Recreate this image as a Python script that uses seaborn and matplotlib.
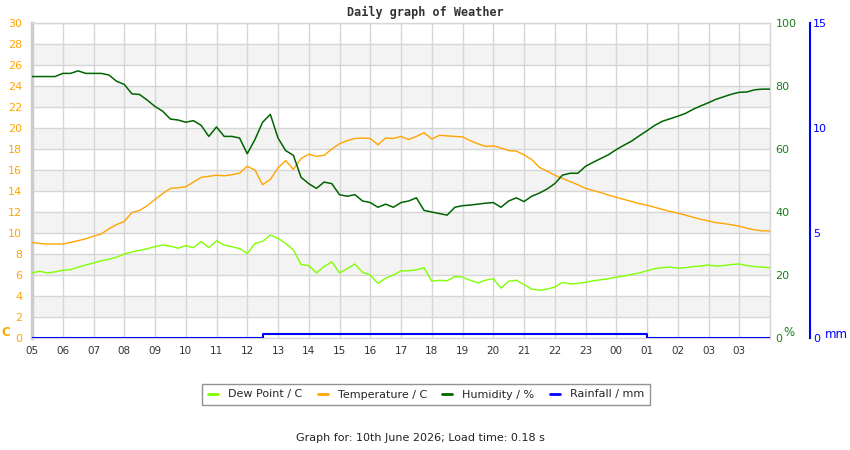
import numpy as np
import pandas as pd
import matplotlib
matplotlib.use("Agg")
import matplotlib.pyplot as plt
from matplotlib.lines import Line2D
import seaborn as sns

# readings every 15 minutes from 05:00, hours since start
sample_hours = np.linspace(0, 24, 97)

temperature = [9.1, 9.0, 8.95, 8.95, 8.95, 9.1, 9.27, 9.45, 9.7, 9.9, 10.4, 10.8, 11.1,
               11.95, 12.15, 12.6, 13.2, 13.75, 14.25, 14.3, 14.4, 14.85, 15.3, 15.4, 15.5,
               15.45, 15.55, 15.7, 16.35, 16.0, 14.6, 15.1, 16.2, 16.9, 16.05, 17.1, 17.5,
               17.3, 17.4, 18.0, 18.5, 18.8, 19.0, 19.05, 19.0, 18.4, 19.05, 19.0, 19.2,
               18.9, 19.2, 19.55, 18.95, 19.3, 19.25, 19.2, 19.15, 18.8, 18.5, 18.25, 18.3,
               18.1, 17.85, 17.8, 17.45, 17.0, 16.25, 15.9, 15.5, 15.2, 14.9, 14.6, 14.25,
               14.05, 13.85, 13.6, 13.4, 13.2, 13.0, 12.8, 12.65, 12.45, 12.25, 12.05, 11.9,
               11.7, 11.5, 11.3, 11.15, 10.98, 10.9, 10.78, 10.65, 10.45, 10.3, 10.2, 10.2]

dew_point = [6.2, 6.35, 6.2, 6.3, 6.45, 6.5, 6.75, 6.95, 7.15, 7.35, 7.5, 7.7, 8.0,
             8.2, 8.35, 8.5, 8.7, 8.85, 8.75, 8.55, 8.8, 8.6, 9.2, 8.6, 9.25,
             8.85, 8.7, 8.5, 8.05, 9.0, 9.2, 9.8, 9.5, 9.0, 8.4, 7.0, 6.9,
             6.2, 6.8, 7.25, 6.2, 6.6, 7.05, 6.25, 6.0, 5.2, 5.7, 6.0, 6.4,
             6.4, 6.5, 6.7, 5.4, 5.5, 5.45, 5.85, 5.8, 5.5, 5.25, 5.5, 5.65,
             4.75, 5.4, 5.5, 5.1, 4.65, 4.55, 4.65, 4.85, 5.3, 5.15, 5.2, 5.3,
             5.45, 5.55, 5.65, 5.8, 5.9, 6.05, 6.2, 6.4, 6.6, 6.7, 6.75, 6.65,
             6.7, 6.8, 6.85, 6.95, 6.85, 6.9, 7.0, 7.05, 6.9, 6.8, 6.75, 6.7]

humidity = [83, 83, 83, 83, 84, 84, 84.8, 84, 84, 84, 83.5, 81.5, 80.5,
            77.5, 77.3, 75.5, 73.5, 72, 69.5, 69.2, 68.5, 69, 67.5, 64, 67,
            64, 64, 63.5, 58.5, 63, 68.5, 71, 63.5, 59.5, 58, 51, 49,
            47.5, 49.5, 49, 45.5, 45, 45.5, 43.5, 43, 41.5, 42.5, 41.5, 43,
            43.5, 44.5, 40.5, 40, 39.5, 39, 41.5, 42, 42.2, 42.5, 42.8, 43,
            41.5, 43.5, 44.5, 43.3, 45, 46, 47.3, 49, 51.7, 52.3, 52.3, 54.5,
            55.8, 57, 58.2, 59.8, 61.2, 62.5, 64.2, 65.8, 67.5, 68.8, 69.6, 70.4,
            71.3, 72.6, 73.7, 74.7, 75.8, 76.6, 77.4, 78, 78.1, 78.8, 79, 79]

rain_hours = [0, 7.5, 20.0, 24]
rainfall = [0, 0.2, 0, 0]

tick_labels = ["05", "06", "07", "08", "09", "10", "11", "12", "13", "14", "15", "16",
               "17", "18", "19", "20", "21", "22", "23", "00", "01", "02", "03", "03"]

DEW_C = "#80ff00"
TEMP_C = "#ffa500"
HUM_C = "#006400"
RAIN_C = "#0000ff"
GRID_C = "#d6d6d6"

df = pd.DataFrame({"hour": sample_hours, "temp": temperature, "dew": dew_point, "hum": humidity})

sns.set_theme(style="white")
plt.rcParams["font.family"] = ["DejaVu Sans"]

fig = plt.figure(figsize=(8.5, 4.5), dpi=100)
ax = fig.add_axes([32 / 850, 1 - 338 / 450, 738 / 850, 315 / 450])

# grey bands + grid
for y0 in range(2, 30, 4):
    ax.axhspan(y0, y0 + 2, color="#f3f3f3", zorder=0, lw=0)
for y in range(2, 31, 2):
    ax.axhline(y, color=GRID_C, lw=1, zorder=0.5)
for x in range(1, 25):
    ax.axvline(x, color=GRID_C, lw=1, zorder=0.5)

sns.lineplot(data=df, x="hour", y="dew", ax=ax, color=DEW_C, lw=1, zorder=3)
sns.lineplot(data=df, x="hour", y="temp", ax=ax, color=TEMP_C, lw=1, zorder=3)

ax.set_xlim(0, 24)
ax.set_ylim(0, 30)
ax.set_xticks(range(len(tick_labels)))
ax.set_xticklabels(tick_labels)
ax.set_yticks(range(0, 31, 2))
ax.tick_params(axis="x", length=0, pad=6, labelsize=7.5, labelcolor="#333333")
ax.tick_params(axis="y", length=0, pad=7, labelsize=8, labelcolor=TEMP_C)
ax.set_xlabel("")
ax.set_ylabel("")
for s in ["top", "right", "bottom"]:
    ax.spines[s].set_color(GRID_C)
    ax.spines[s].set_linewidth(1)
ax.spines["left"].set_color("#cccccc")
ax.spines["left"].set_linewidth(2.5)

# humidity axis
ax2 = ax.twinx()
sns.lineplot(data=df, x="hour", y="hum", ax=ax2, color=HUM_C, lw=1.1)
ax2.set_ylim(0, 100)
ax2.set_yticks(range(0, 101, 20))
ax2.tick_params(axis="y", length=0, pad=4, labelsize=8, labelcolor="#1a7f1a")
ax2.set_ylabel("")
for s in ax2.spines.values():
    s.set_visible(False)

# rainfall axis
ax3 = ax.twinx()
sns.lineplot(x=rain_hours, y=rainfall, ax=ax3, color=RAIN_C, lw=1.5, drawstyle="steps-post")
ax3.set_ylim(0, 15)
ax3.set_yticks([0, 5, 10, 15])
ax3.spines["right"].set_position(("axes", (810 - 32) / 738))
ax3.spines["right"].set_color(RAIN_C)
ax3.spines["right"].set_linewidth(1.5)
for s in ["top", "left", "bottom"]:
    ax3.spines[s].set_visible(False)
ax3.tick_params(axis="y", length=0, pad=2, labelsize=8, labelcolor=RAIN_C)
ax3.set_ylabel("")

# unit labels
fig.text(6 / 850, 1 - 333 / 450, "C", color=TEMP_C, fontsize=8.5, fontweight="bold",
         ha="center", va="center")
fig.text(789 / 850, 1 - 333 / 450, "%", color="#1a7f1a", fontsize=8.5, ha="center", va="center")
fig.text(836 / 850, 1 - 334 / 450, "mm", color=RAIN_C, fontsize=8.5, ha="center", va="center")

fig.text(425 / 850, 1 - 12 / 450, "Daily graph of Weather", family="DejaVu Sans Mono",
         fontweight="bold", fontsize=8.5, color="#333333", ha="center", va="center")

handles = [Line2D([], [], color=c, lw=2) for c in [DEW_C, TEMP_C, HUM_C, RAIN_C]]
labels = ["Dew Point / C", "Temperature / C", "Humidity / %", "Rainfall / mm"]
leg = fig.legend(handles, labels, loc="center", bbox_to_anchor=(426 / 850, 1 - 394.5 / 450),
                 ncol=4, fontsize=8, frameon=True, fancybox=False, edgecolor="#777777",
                 handlelength=0.9, handletextpad=0.9, columnspacing=1.4, borderpad=0.5)
leg.get_frame().set_linewidth(1)

fig.text(420 / 850, 1 - 438 / 450, "Graph for: 10th June 2026; Load time: 0.18 s",
         fontsize=8, color="#222222", ha="center", va="center")

fig.savefig("out.png", dpi=100)
